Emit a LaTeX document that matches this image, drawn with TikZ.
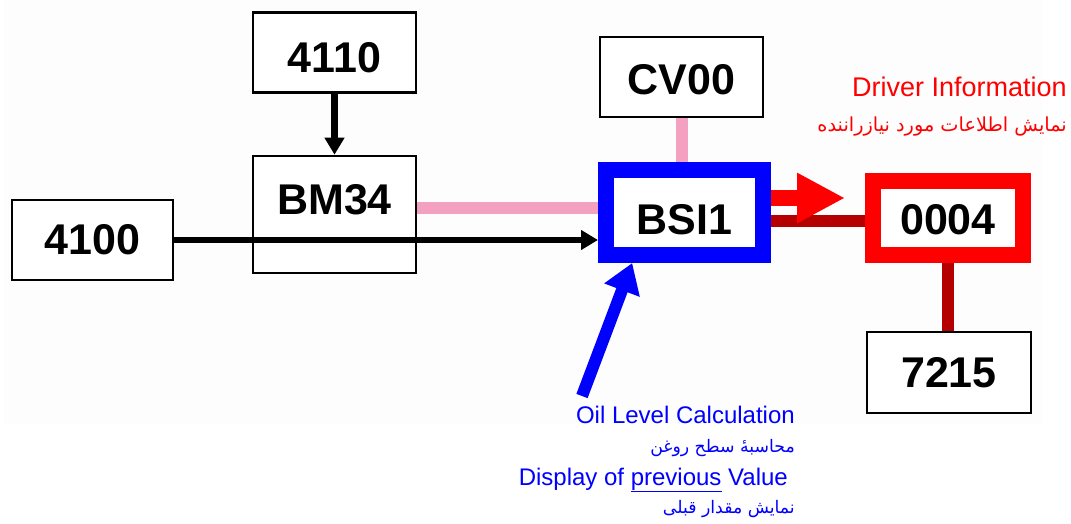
\documentclass[tikz,border=0pt]{standalone}
\usepackage{fontspec}
\setmainfont{Liberation Sans}
\newfontfamily\persianfont[Script=Arabic]{DejaVu Sans}
\TeXXeTstate=1
\usepackage{tikz}
\usetikzlibrary{arrows.meta,backgrounds}
\definecolor{ecublue}{HTML}{0000FF}
\definecolor{ecured}{HTML}{FF0000}
\definecolor{busdark}{HTML}{B40000}
\definecolor{buspink}{HTML}{F4A0C0}
\definecolor{paper}{HTML}{FDFDFD}

\begin{document}
\begin{tikzpicture}[x=1pt,y=-1pt,
  box/.style={draw,line width=2.6pt,fill=white,inner sep=0pt,minimum width=163pt,minimum height=80pt,
              font=\fontsize{43}{48}\selectfont\bfseries},
  bluebox/.style={box,draw=ecublue,line width=16pt,minimum width=157pt,minimum height=85pt},
  redbox/.style={box,draw=ecured,line width=16pt,minimum width=150pt,minimum height=74pt},
  redlabel/.style={text=ecured,inner sep=0pt,font=\fontsize{27}{30}\selectfont},
  redfalabel/.style={text=ecured,inner sep=0pt,font=\fontsize{19.3}{22}\selectfont\persianfont},
  bluelabel/.style={text=ecublue,inner sep=0pt,font=\fontsize{24}{28}\selectfont},
  bluefalabel/.style={text=ecublue,inner sep=0pt,font=\fontsize{17.3}{20}\selectfont\persianfont},
  arr/.style={-{Triangle[length=17pt,width=19pt]},line width=6.5pt},
  pinkbus/.style={line width=12pt,color=buspink},
  darkbus/.style={line width=12pt,color=busdark},
  redarr/.style={-{Triangle[length=48pt,width=47pt]},line width=16pt,color=ecured},
  bluearr/.style={-{Triangle[length=29pt,width=36pt]},line width=12pt,color=ecublue}
]
  \useasboundingbox (0,0) rectangle (1071,523);

  % Modules
  \node[box,text height=41pt] (n4110) at (334.5,52.5) {4110};
  \node[box,minimum height=117pt,text depth=31pt] (bm34) at (334.5,214.5) {BM34};
  \node[box,minimum width=161pt] (n4100) at (92.5,240) {4100};
  \node[box,text height=36pt] (cv00) at (681.5,77) {CV00};
  \node[bluebox,text height=45pt] (bsi1) at (684.5,212.5) {BSI1};
  \node[redbox,text height=34pt] (n0004) at (948,218) {0004};
  \node[box,minimum width=164pt,minimum height=81pt] (n7215) at (949,372.5) {7215};

  % Free ends
  \coordinate (pinkend) at ([yshift=5pt]bsi1.west);
  \coordinate (busend) at ([yshift=-3pt]n0004.west);
  \coordinate (infotip) at (845,198);
  \coordinate (oilstart) at (582,396);

  % Links
  \draw[arr] (n4110) -- (bm34);
  \draw[pinkbus] (bm34.east |- pinkend) -- (pinkend);
  \draw[arr] (n4100.east) -- (n4100.east -| bsi1.west);
  \draw[pinkbus] (cv00.south) -- (cv00.south |- bsi1.north);
  \draw[darkbus] (bsi1.east |- busend) -- (busend);
  \draw[darkbus] (n0004.south) -- (n0004.south |- n7215.north);
  \draw[redarr] (bsi1.east |- infotip) -- (infotip);
  \draw[bluearr] (oilstart) -- (bsi1.224);

  % Notes
  \node[redlabel,anchor=base east] (drvinfo) at (1067,96) {Driver Information};
  \node[redfalabel,anchor=base east] (drvinfofa) at (1067,131)
    {\beginR نمایش اطلاعات مورد نیازراننده\endR};
  \node[bluelabel,anchor=base east] (oilcalc) at (795,423) {Oil Level Calculation};
  \node[bluefalabel,anchor=base east] (oilcalcfa) at (795,452)
    {\beginR محاسبهٔ سطح روغن\endR};
  \node[bluelabel,anchor=base east] (prevval) at (788,485) {Display of \underline{previous} Value};
  \node[bluefalabel,anchor=base east] (prevvalfa) at (795,513)
    {\beginR نمایش مقدار قبلی\endR};

  \begin{scope}[on background layer]
    \fill[paper] (4,0) rectangle (1042,424);
  \end{scope}
\end{tikzpicture}
\end{document}
